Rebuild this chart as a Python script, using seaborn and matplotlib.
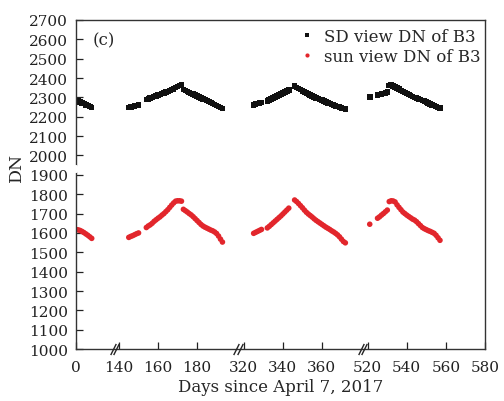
import numpy as np
import pandas as pd
import matplotlib
matplotlib.use('Agg')
import matplotlib.pyplot as plt
import matplotlib.transforms as mtransforms
import seaborn as sns

# ---- data (days since April 7, 2017) ----
days_a = [0, 1, 2, 3, 4, 5, 6, 7, 8]
sd_a = [2284, 2280, 2276, 2272, 2268, 2262, 2257, 2252, 2248]
sun_a = [1618, 1616, 1613, 1608, 1602, 1595, 1588, 1580, 1572]

days_b = [145, 146, 147, 148, 149, 150,
          154, 155, 156, 157, 158, 159, 160, 161, 162, 163, 164, 165, 166, 167, 168, 169, 170, 171, 172,
          173, 174, 175, 176, 177, 178, 179, 180, 181, 182, 183, 184, 185, 186, 187, 188, 189, 190, 191, 192, 193]
sd_b = [2247, 2250, 2253, 2256, 2259, 2262,
        2288, 2292, 2296, 2300, 2304, 2308, 2311, 2315, 2319, 2323, 2327, 2331, 2335, 2340, 2344, 2350, 2356, 2362, 2364,
        2340, 2335, 2330, 2325, 2320, 2316, 2312, 2307, 2303, 2298, 2293, 2289, 2284, 2279, 2274, 2269, 2264, 2258, 2253, 2248, 2243]
sun_b = [1577, 1582, 1586, 1591, 1596, 1600,
         1628, 1636, 1642, 1650, 1660, 1668, 1676, 1683, 1692, 1700, 1710, 1720, 1732, 1744, 1755, 1764, 1766, 1766, 1764,
         1722, 1715, 1708, 1700, 1693, 1684, 1674, 1664, 1654, 1644, 1636, 1630, 1625, 1620, 1615, 1611, 1605, 1597, 1584, 1568, 1553]

days_c = [325, 326, 327, 328, 329,
          332, 333, 334, 335, 336, 337, 338, 339, 340, 341, 342, 343,
          346, 347, 348, 349, 350, 351, 352, 353, 354, 355, 356, 357, 358, 359, 360, 361, 362, 363, 364, 365, 366, 367, 368, 369, 370, 371, 372]
sd_c = [2262, 2265, 2268, 2271, 2274,
        2282, 2287, 2292, 2297, 2302, 2307, 2312, 2317, 2322, 2327, 2332, 2337,
        2358, 2352, 2346, 2340, 2334, 2328, 2322, 2317, 2312, 2307, 2302, 2298, 2294, 2290, 2285, 2280, 2276, 2272, 2268, 2264, 2260, 2256, 2252, 2249, 2246, 2243, 2240]
sun_c = [1598, 1603, 1608, 1613, 1618,
         1626, 1634, 1643, 1652, 1661, 1670, 1679, 1688, 1698, 1708, 1718, 1728,
         1770, 1762, 1752, 1741, 1730, 1718, 1707, 1698, 1690, 1682, 1673, 1665, 1658, 1651, 1644, 1637, 1630, 1624, 1618, 1611, 1605, 1598, 1590, 1580, 1568, 1556, 1549]

days_d = [521,
          525, 526, 527, 528, 529, 530,
          531, 532, 533, 534, 535, 536, 537, 538, 539, 540, 541, 542, 543, 544, 545, 546, 547, 548, 549, 550, 551, 552, 553, 554, 555, 556, 557]
sd_d = [2303,
        2312, 2315, 2318, 2321, 2324, 2327,
        2362, 2365, 2360, 2354, 2348, 2342, 2336, 2330, 2325, 2320, 2315, 2310, 2305, 2300, 2296, 2292, 2288, 2284, 2280, 2276, 2272, 2267, 2262, 2257, 2252, 2248, 2244]
sun_d = [1645,
         1676, 1683, 1692, 1700, 1709, 1718,
         1762, 1766, 1765, 1760, 1745, 1732, 1720, 1708, 1700, 1692, 1685, 1678, 1671, 1666, 1658, 1648, 1638, 1628, 1622, 1617, 1612, 1608, 1603, 1598, 1588, 1575, 1562]

SD_LABEL = 'SD view DN of B3'
SUN_LABEL = 'sun view DN of B3'
x_ticks = [0, 140, 160, 180, 320, 340, 360, 520, 540, 560, 580]
y_ticks = list(range(1000, 2701, 100))

# broken x axis: real day -> shown position
REAL_KNOTS = [0, 19.5, 138, 200, 318, 380, 518, 580]
SHOWN_KNOTS = [0, 19.5, 20, 82, 84, 146, 147.5, 209.5]


def fwd(x):
    return np.interp(x, REAL_KNOTS, SHOWN_KNOTS)


def inv(c):
    return np.interp(c, SHOWN_KNOTS, REAL_KNOTS)


days = days_a + days_b + days_c + days_d
sd = sd_a + sd_b + sd_c + sd_d
sun = sun_a + sun_b + sun_c + sun_d
df = pd.concat([
    pd.DataFrame({'day': days, 'DN': sd, 'series': SD_LABEL}),
    pd.DataFrame({'day': days, 'DN': sun, 'series': SUN_LABEL}),
], ignore_index=True)

sns.set_style('ticks')
plt.rcParams['font.family'] = 'DejaVu Serif'
plt.rcParams['xtick.direction'] = 'in'
plt.rcParams['ytick.direction'] = 'in'

fig = plt.figure(figsize=(5.04, 4.02), dpi=100)
ax = fig.add_axes([0.151, 0.129, 0.811, 0.819])

sns.scatterplot(data=df, x='day', y='DN', hue='series', style='series',
                palette={SD_LABEL: '#111111', SUN_LABEL: '#e2262c'},
                markers={SD_LABEL: 's', SUN_LABEL: 'o'},
                s=16, linewidth=0, ax=ax)

ax.set_xscale('function', functions=(fwd, inv))
ax.set_xlim(0, 580)
ax.set_ylim(1000, 2700)
ax.set_xticks(x_ticks)
ax.set_xticklabels([str(t) for t in x_ticks])
ax.set_yticks(y_ticks)
ax.tick_params(axis='both', labelsize=11, length=5, width=0.9, pad=6, colors='#222222')
ax.tick_params(axis='x', pad=8)
for sp in ax.spines.values():
    sp.set_visible(True)
    sp.set_linewidth(1.0)
    sp.set_color('#333333')

ax.set_xlabel('Days since April 7, 2017', fontsize=12, labelpad=3)
ax.set_ylabel('DN', fontsize=12.5)
ax.yaxis.set_label_coords(-0.125, 0.555)

ax.text(0.04, 0.94, '(c)', transform=ax.transAxes, fontsize=12, va='center', ha='left')

sns.move_legend(ax, 'upper right', title=None, frameon=False, fontsize=12,
                handletextpad=0.0, markerscale=0.75, labelspacing=0.15,
                borderaxespad=0.1, bbox_to_anchor=(1.01, 1.0))

# break marks on the x axis
bx = mtransforms.blended_transform_factory(ax.transData, ax.transAxes)
for c in [19.75, 83.0, 146.75]:
    ax.plot(inv(np.array([c - 0.9, c + 0.9])), [0, 0], transform=bx, linestyle='none',
            marker=[(-0.5, -1), (0.5, 1)], markersize=8, markeredgewidth=1.0,
            color='#222222', clip_on=False, zorder=6)

# small gap in the left spine
by = mtransforms.blended_transform_factory(ax.transAxes, ax.transData)
ax.plot([0, 0], [1918, 1938], transform=by, color='white', lw=3, clip_on=False, zorder=6)

fig.savefig('out.png', dpi=100)
